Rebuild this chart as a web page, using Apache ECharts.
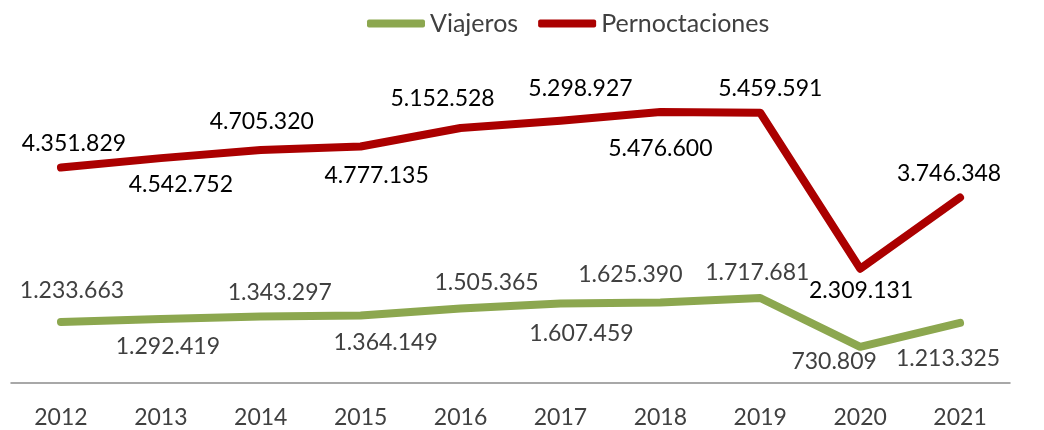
<!DOCTYPE html>
<html>
<head>
<meta charset="utf-8">
<script src="https://cdn.jsdelivr.net/npm/echarts@6/dist/echarts.min.js"></script>
<style>
  html, body { margin: 0; padding: 0; background: #fff; }
  #chart { width: 1044px; height: 430px; }
</style>
</head>
<body>
<div id="chart"></div>
<script>
var years = ['2012', '2013', '2014', '2015', '2016', '2017', '2018', '2019', '2020', '2021'];
var viajeros = [1233663, 1292419, 1343297, 1364149, 1505365, 1607459, 1625390, 1717681, 730809, 1213325];
var pernoctaciones = [4351829, 4542752, 4705320, 4777135, 5152528, 5298927, 5476600, 5459591, 2309131, 3746348];

// desplazamiento de las etiquetas (como en el original, movidas a mano)
var offViajeros = [[11, -31], [7, 28], [19, -24], [25, 27], [26, -26], [21, 30], [-30, -28], [-3, -25], [-26, 15], [-12, 36]];
var offPernoct = [[13, -24], [20, 26], [1, -29], [16, 29], [-18, -29], [20, -32], [0, 37], [10, -24], [1, 22], [-11, -24]];

function fmt(v) {
	return String(v).replace(/\B(?=(\d{3})+(?!\d))/g, '.');
}

function build(values, offsets, color) {
	return values.map(function (v, i) {
		return {
			value: v,
			label: { offset: offsets[i], color: color }
		};
	});
}

var myChart = echarts.init(document.getElementById('chart'));
var option = {
	animation: false,
	textStyle: { fontFamily: 'Lato' },
	legend: {
		top: 6,
		left: 362,
		itemWidth: 58,
		itemHeight: 8,
		itemGap: 20,
		icon: 'roundRect',
		textStyle: { fontSize: 25, color: '#404040', fontFamily: 'Lato' },
		data: ['Viajeros', 'Pernoctaciones']
	},
	grid: { left: 11, right: 34, top: 86, bottom: 47 },
	xAxis: {
		type: 'category',
		data: years,
		axisLine: { lineStyle: { color: '#8c8c8c', width: 1.5 } },
		axisTick: { show: false },
		axisLabel: { fontSize: 23, color: '#404040', margin: 23, fontFamily: 'Lato' }
	},
	yAxis: {
		type: 'value',
		min: 0,
		max: 6000000,
		show: false,
		splitLine: { show: false }
	},
	series: [{
		name: 'Viajeros',
		type: 'line',
		data: build(viajeros, offViajeros, '#404040'),
		symbol: 'circle',
		symbolSize: 2,
		color: '#8CA74F',
		lineStyle: { width: 8, cap: 'round', join: 'round' },
		label: {
			show: true,
			position: 'inside',
			fontSize: 23,
			fontFamily: 'Lato',
			formatter: function (p) { return fmt(p.value); }
		}
	}, {
		name: 'Pernoctaciones',
		type: 'line',
		data: build(pernoctaciones, offPernoct, '#000000'),
		symbol: 'circle',
		symbolSize: 2,
		color: '#AB0000',
		lineStyle: { width: 8, cap: 'round', join: 'round' },
		label: {
			show: true,
			position: 'inside',
			fontSize: 23,
			fontFamily: 'Lato',
			formatter: function (p) { return fmt(p.value); }
		}
	}]
};
myChart.setOption(option);
</script>
</body>
</html>
